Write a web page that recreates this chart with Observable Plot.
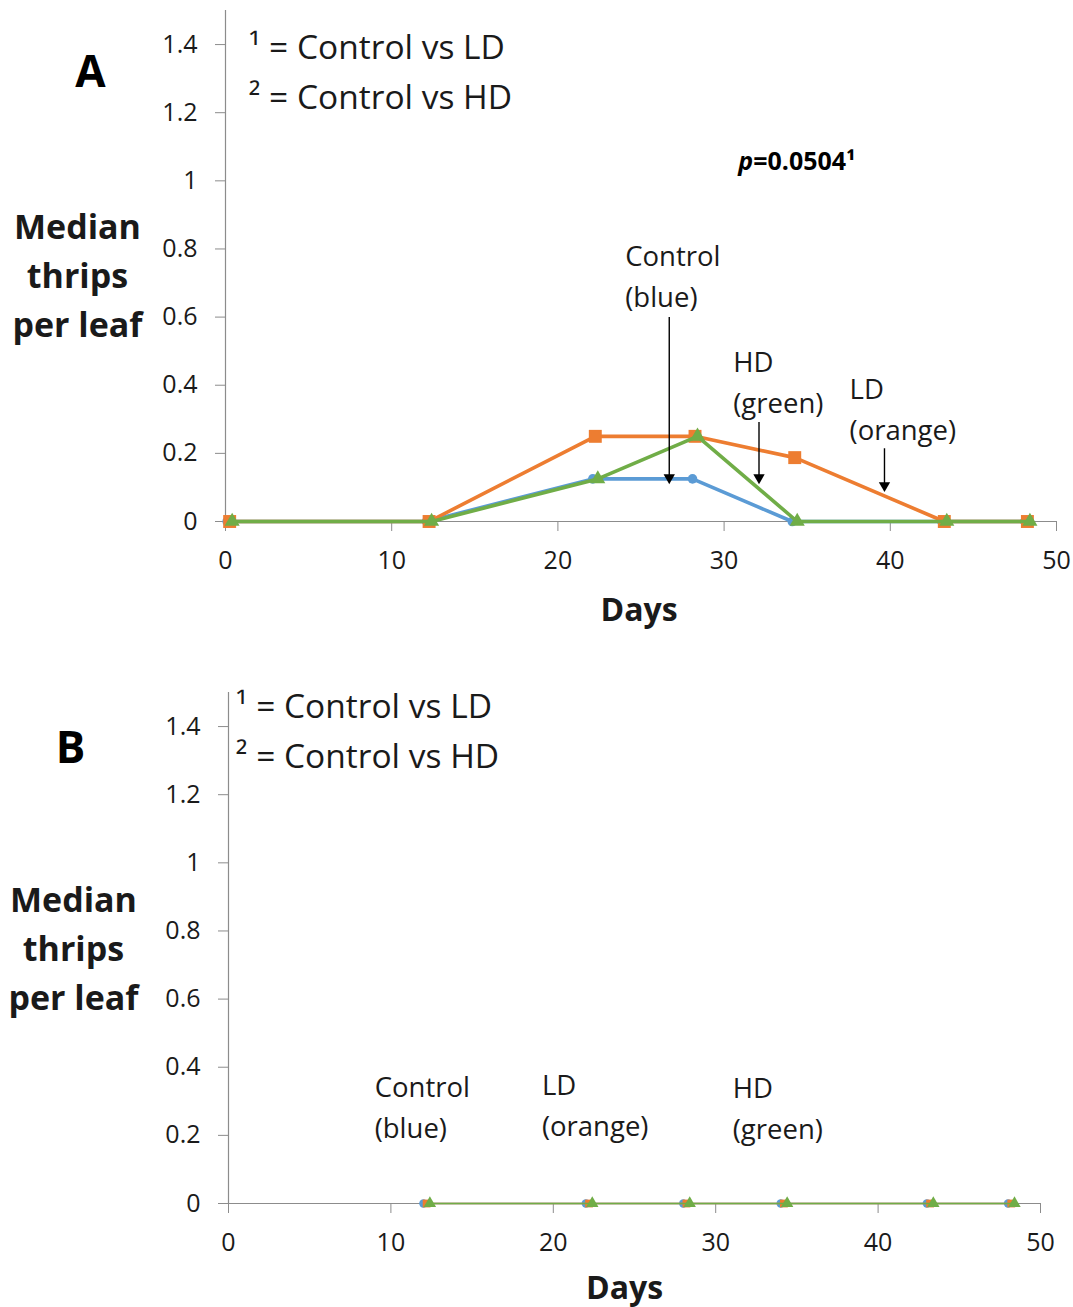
<!DOCTYPE html>
<html><head><meta charset="utf-8">
<script src="https://cdn.jsdelivr.net/npm/d3@7"></script>
<script src="https://cdn.jsdelivr.net/npm/@observablehq/plot@0.6"></script>
<style>
body{margin:0;background:#fff;font-family:"Open Sans", sans-serif;}
#a,#b{display:block;width:1073px;}
svg{display:block;}
</style></head><body>
<div id="a"></div><div id="b"></div>
<script>
// ---------- data ----------
const seriesNames = ["Control", "LD", "HD"];
const seriesColors = ["#5B9BD5", "#ED7D31", "#70AD47"];
const seriesSymbols = ["circle", "square", "triangle"];

// Panel A (sampling days, slightly offset per series as in the original)
const daysA_control = [0.1, 12.1, 22.1, 28.1, 34.1, 43.1, 48.1];
const daysA_LD      = [0.25, 12.25, 22.25, 28.25, 34.25, 43.25, 48.25];
const daysA_HD      = [0.4, 12.4, 22.4, 28.4, 34.4, 43.4, 48.4];
const thripsA_control = [0, 0, 0.125, 0.125, 0, 0, 0];
const thripsA_LD      = [0, 0, 0.25, 0.25, 0.1875, 0, 0];
const thripsA_HD      = [0, 0, 0.125, 0.25, 0, 0, 0];

// Panel B
const daysB_control = [12, 22, 28, 34, 43, 48];
const daysB_LD      = [12.2, 22.2, 28.2, 34.2, 43.2, 48.2];
const daysB_HD      = [12.4, 22.4, 28.4, 34.4, 43.4, 48.4];
const thripsB_control = [0, 0, 0, 0, 0, 0];
const thripsB_LD      = [0, 0, 0, 0, 0, 0];
const thripsB_HD      = [0, 0, 0, 0, 0, 0];

const xTicks = [0, 10, 20, 30, 40, 50];
const yTicks = [0, 0.2, 0.4, 0.6, 0.8, 1, 1.2, 1.4];
const xLabel = "Days";
const yLabel = "Median\nthrips\nper leaf";
const legendLines = ["\u00b9 = Control vs LD", "\u00b2 = Control vs HD"];

function rows(days, vals, s) { return days.map((d, i) => ({day: d, value: vals[i], series: s})); }
const dataA = [
  ...rows(daysA_control, thripsA_control, "Control"),
  ...rows(daysA_LD, thripsA_LD, "LD"),
  ...rows(daysA_HD, thripsA_HD, "HD")
];
const dataB = [
  ...rows(daysB_control, thripsB_control, "Control"),
  ...rows(daysB_LD, thripsB_LD, "LD"),
  ...rows(daysB_HD, thripsB_HD, "HD")
];

const FONT = "'Open Sans', sans-serif";
const axisGray = "#8c8c8c";
const textCol = "#1a1a1a";

function seriesMarks(data, lw, sizes) {
  const marks = [];
  seriesNames.forEach((s, i) => {
    const d = data.filter(r => r.series === s);
    marks.push(Plot.line(d, {x: "day", y: "value", stroke: seriesColors[i], strokeWidth: lw}));
    marks.push(Plot.dot(d, {x: "day", y: "value", fill: seriesColors[i], stroke: "none", symbol: seriesSymbols[i], r: sizes[i]}));
  });
  return marks;
}

function baseMarks(o) {
  return [
    Plot.ruleY([0], {stroke: axisGray, strokeWidth: 1.2}),
    Plot.ruleX([0], {y1: 0, y2: 1.5, stroke: axisGray, strokeWidth: 1.2}),
    Plot.axisY({ticks: yTicks, tickFormat: d => String(+d.toFixed(1)), tickSize: 10, tickPadding: 18,
      fontSize: 25, stroke: axisGray, fill: textCol, label: null}),
    Plot.axisX({ticks: xTicks, tickSize: 10, tickPadding: 20, fontSize: 25, stroke: axisGray, fill: textCol, label: null}),
    Plot.text([yLabel], {frameAnchor: "top-left", dx: o.ylx, dy: o.yly, fontSize: 34, fontWeight: "bold",
      textAnchor: "middle", lineAnchor: "middle", lineHeight: 1.44, fill: textCol}),
    Plot.text([xLabel], {frameAnchor: "bottom", dx: o.xlx, dy: o.xly, fontSize: 32, fontWeight: "bold",
      textAnchor: "middle", lineAnchor: "middle", fill: textCol}),
    Plot.text([o.panel], {frameAnchor: "top-left", dx: o.px, dy: o.py, fontSize: 44, fontWeight: "bold",
      textAnchor: "middle", lineAnchor: "middle", fill: "#000"}),
    Plot.text(legendLines, {x: o.legX, y: (d, i) => o.legY[i], fontSize: 33.5, textAnchor: "start",
      lineAnchor: "middle", fill: textCol})
  ];
}

function pointer(arrows) {
  return [
    Plot.link(arrows, {x1: "x", x2: "x", y1: "y1", y2: "y2", stroke: "#000", strokeWidth: 1.4}),
    Plot.dot(arrows, {x: "x", y: "y2", symbol: "triangle", rotate: 180, r: 4.2, fill: "#000", stroke: "none", dy: -3})
  ];
}

const annFont = 27.5;

// ---------- Panel A ----------
const plotA = Plot.plot({
  width: 1073, height: 650,
  marginLeft: 225, marginRight: 17, marginTop: 10, marginBottom: 129,
  style: {fontFamily: FONT, background: "#fff"},
  x: {domain: [0, 50], axis: null},
  y: {domain: [0, 1.5], axis: null},
  marks: [
    ...baseMarks({panel: "A", px: -135, py: 62, ylx: -148, yly: 262, xlx: -2, xly: 89, legX: 1.4, legY: [1.389, 1.242]}),
    ...seriesMarks(dataA, 3.6, [4.8, 7.3, 5.6]),
    Plot.text(["Control\n(blue)"], {x: 24.05, y: 0.729, fontSize: annFont, textAnchor: "start", lineAnchor: "middle", lineHeight: 1.5, fill: textCol}),
    Plot.text(["HD\n(green)"], {x: 30.55, y: 0.418, fontSize: annFont, textAnchor: "start", lineAnchor: "middle", lineHeight: 1.5, fill: textCol}),
    Plot.text(["LD\n(orange)"], {x: 37.55, y: 0.339, fontSize: annFont, textAnchor: "start", lineAnchor: "middle", lineHeight: 1.5, fill: textCol}),
    ...pointer([{x: 26.7, y1: 0.6, y2: 0.12}, {x: 32.1, y1: 0.292, y2: 0.12}, {x: 39.65, y1: 0.215, y2: 0.097}]),
    Plot.text(["p"], {x: 31.75, y: 1.054, fontSize: 25, fontWeight: "bold", fontStyle: "italic", textAnchor: "end", lineAnchor: "middle", fill: "#000"}),
    Plot.text(["=0.0504\u00b9"], {x: 31.75, y: 1.054, fontSize: 25, fontWeight: "bold", textAnchor: "start", lineAnchor: "middle", fill: "#000"})
  ]
});
document.getElementById("a").appendChild(plotA);

// ---------- Panel B ----------
const plotB = Plot.plot({
  width: 1073, height: 657,
  marginLeft: 228, marginRight: 33, marginTop: 42, marginBottom: 104,
  style: {fontFamily: FONT, background: "#fff"},
  x: {domain: [0, 50], axis: null},
  y: {domain: [0, 1.5], axis: null},
  marks: [
    ...baseMarks({panel: "B", px: -158, py: 56, ylx: -155, yly: 253, xlx: -10, xly: 85, legX: 0.45, legY: [1.456, 1.309]}),
    ...seriesMarks(dataB, 1.5, [4.2, 4.4, 4.6]),
    Plot.text(["Control\n(blue)"], {x: 9.0, y: 0.292, fontSize: annFont, textAnchor: "start", lineAnchor: "middle", lineHeight: 1.5, fill: textCol}),
    Plot.text(["LD\n(orange)"], {x: 19.3, y: 0.296, fontSize: annFont, textAnchor: "start", lineAnchor: "middle", lineHeight: 1.5, fill: textCol}),
    Plot.text(["HD\n(green)"], {x: 31.05, y: 0.289, fontSize: annFont, textAnchor: "start", lineAnchor: "middle", lineHeight: 1.5, fill: textCol})
  ]
});
document.getElementById("b").appendChild(plotB);
</script>
</body></html>
